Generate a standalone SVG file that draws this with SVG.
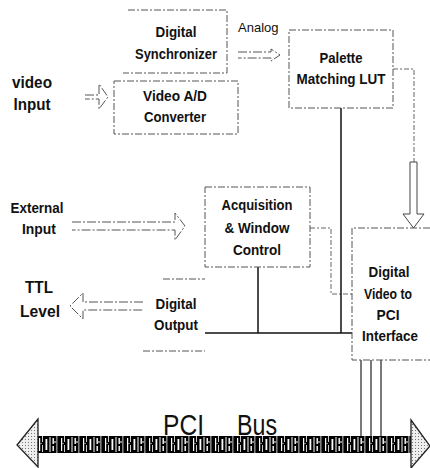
<svg xmlns="http://www.w3.org/2000/svg" width="430" height="468" viewBox="0 0 430 468">
<defs>
<style>
.box{fill:none;stroke:#555;stroke-width:1;stroke-dasharray:7 2 2 2}
.t{font-family:"Liberation Sans",Arial,sans-serif;font-weight:bold;font-size:14.5px;fill:#111;text-anchor:middle}
.tl{font-family:"Liberation Sans",Arial,sans-serif;font-weight:bold;font-size:16px;fill:#111;text-anchor:middle}
.solid{fill:none;stroke:#111;stroke-width:1.5}
.thin{fill:none;stroke:#222;stroke-width:1.2}
.dash{fill:none;stroke:#666;stroke-width:1;stroke-dasharray:5 2 2 2}
.hollow{fill:#fff;stroke:#555;stroke-width:1;stroke-dasharray:9 2 2 2}
.big{font-family:"Liberation Sans",Arial,sans-serif;font-size:30px;fill:#111}
</style>
<pattern id="bus" width="22" height="17" patternUnits="userSpaceOnUse" x="38" y="436">
<rect width="22" height="17" fill="#000"/>
<rect x="1" y="2" width="1.2" height="13" fill="#fff"/>
<rect x="4" y="0" width="0.8" height="6" fill="#fff"/>
<rect x="4" y="9" width="0.8" height="7" fill="#fff"/>
<rect x="7.5" y="3" width="1.8" height="11" fill="#fff"/>
<rect x="11.5" y="1" width="1" height="15" fill="#fff"/>
<rect x="14.5" y="2" width="1.4" height="6" fill="#fff"/>
<rect x="14.5" y="10" width="1.4" height="5" fill="#fff"/>
<rect x="18.5" y="0" width="0.8" height="17" fill="#fff"/>
<rect x="16.5" y="5" width="1" height="2" fill="#fff"/>
<rect x="2.5" y="7" width="1" height="1" fill="#fff"/>
</pattern>
<pattern id="stip" width="3" height="3" patternUnits="userSpaceOnUse">
<rect width="3" height="3" fill="#eee"/>
<rect x="1" y="1" width="1" height="1" fill="#777"/>
</pattern>
</defs>
<rect width="430" height="468" fill="#fff"/>

<g id="connectors">
<path class="hollow" d="M85,95 H99 V84 L108,97 L99,109 V99 H85"/>
<path class="hollow" d="M238,52 H271 V49 L280,55 L271,61 V58 H238"/>
<path class="hollow" d="M72,222 H175 V213 L185,226 L175,240 V230 H72"/>
<path class="hollow" d="M143,302 H83 V293 L70,306 L83,319 V310 H143"/>
<path class="dash" d="M393,69 H414 V162"/>
<path class="hollow" style="stroke-dasharray:none;stroke:#444" d="M410,162 H417 V214 H424 L413.5,228 L403,214 H410 Z"/>
<path class="dash" d="M310,228 H331 V294 H352"/>
<path class="solid" d="M341,108 V333"/>
<path class="solid" d="M258,267 V333"/>
<path class="solid" d="M205,333 H352"/>
<path class="thin" d="M361,360 V437 M371,360 V437 M381,360 V437"/>
</g>

<g id="sync">
<path class="box" d="M128,10 H227 V73 H123"/>
<text class="t" x="176" y="37" textLength="41" lengthAdjust="spacingAndGlyphs">Digital</text>
<text class="t" x="176" y="59" textLength="82" lengthAdjust="spacingAndGlyphs">Synchronizer</text>
</g>

<g id="analog-label">
<text x="238" y="32" style="font-family:'Liberation Sans',Arial,sans-serif;font-size:13px;fill:#111">Analog</text>
</g>

<g id="video-input">
<text class="tl" x="32" y="88" textLength="40" lengthAdjust="spacingAndGlyphs">video</text>
<text class="tl" x="32" y="110" textLength="37" lengthAdjust="spacingAndGlyphs">Input</text>
</g>

<g id="adc">
<rect class="box" x="114" y="81" width="124" height="53"/>
<text class="t" x="175" y="101" textLength="64" lengthAdjust="spacingAndGlyphs">Video A/D</text>
<text class="t" x="175" y="122" textLength="62" lengthAdjust="spacingAndGlyphs">Converter</text>
</g>

<g id="palette">
<rect class="box" x="289" y="30" width="104" height="78"/>
<text class="t" x="341" y="63" textLength="43" lengthAdjust="spacingAndGlyphs">Palette</text>
<text class="t" x="341" y="84" textLength="89" lengthAdjust="spacingAndGlyphs">Matching LUT</text>
</g>

<g id="external-input">
<text class="t" x="37" y="213" textLength="53" lengthAdjust="spacingAndGlyphs">External</text>
<text class="t" x="39" y="234" textLength="34" lengthAdjust="spacingAndGlyphs">Input</text>
</g>

<g id="acq">
<rect class="box" x="205" y="187" width="105" height="80"/>
<text class="t" x="257" y="210" textLength="71" lengthAdjust="spacingAndGlyphs">Acquisition</text>
<text class="t" x="257" y="233" textLength="65" lengthAdjust="spacingAndGlyphs">&amp; Window</text>
<text class="t" x="257" y="255" textLength="48" lengthAdjust="spacingAndGlyphs">Control</text>
</g>

<g id="ttl">
<text class="tl" x="39" y="293" textLength="28" lengthAdjust="spacingAndGlyphs">TTL</text>
<text class="tl" x="40" y="317" textLength="40" lengthAdjust="spacingAndGlyphs">Level</text>
</g>

<g id="digital-output">
<path class="box" d="M163,279 H205 M143,351 H205"/>
<text class="t" x="176" y="309" textLength="41" lengthAdjust="spacingAndGlyphs">Digital</text>
<text class="t" x="176" y="330" textLength="44" lengthAdjust="spacingAndGlyphs">Output</text>
</g>

<g id="dv-pci">
<path class="box" d="M430,228 H352 V360 H430"/>
<text class="t" x="389" y="277" textLength="41" lengthAdjust="spacingAndGlyphs">Digital</text>
<text class="t" x="388" y="299" textLength="48" lengthAdjust="spacingAndGlyphs">Video to</text>
<text class="t" x="388" y="320" textLength="23" lengthAdjust="spacingAndGlyphs">PCI</text>
<text class="t" x="390" y="341" textLength="56" lengthAdjust="spacingAndGlyphs">Interface</text>
</g>

<g id="pci-bus">
<rect x="38" y="436" width="373" height="17" fill="url(#bus)"/>
<polygon points="38,419 17,445 38,467" fill="url(#stip)" stroke="#222" stroke-width="1.3"/>
<polygon points="411,420 430,446 411,468" fill="url(#stip)" stroke="#222" stroke-width="1.3"/>
<text class="big" x="163" y="435" textLength="41" lengthAdjust="spacingAndGlyphs">PCI</text>
<text class="big" x="237" y="435" textLength="40" lengthAdjust="spacingAndGlyphs">Bus</text>
</g>
</svg>
